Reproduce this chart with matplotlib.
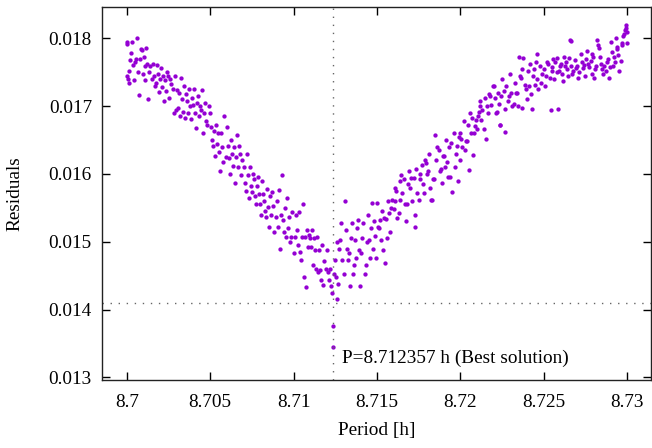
import matplotlib
matplotlib.use("Agg")
import matplotlib.pyplot as plt
from matplotlib.ticker import FixedLocator, FixedFormatter

# period scan: (offset from 8.7 h in 1e-5 h, residual in 1e-5)
scan = [
    (0, 1795), (1, 1792), (4, 1745), (8, 1740), (11, 1734), (15, 1752), (20, 1768), (26, 1779),
    (30, 1795), (36, 1761), (42, 1738), (50, 1766), (56, 1769), (60, 1800), (66, 1750), (72, 1716),
    (78, 1770), (84, 1785), (90, 1783), (96, 1748),
    (102, 1772), (108, 1760), (112, 1738), (118, 1786), (124, 1762), (130, 1710), (136, 1750), (142, 1760),
    (150, 1740), (156, 1763), (162, 1745), (168, 1730), (174, 1735), (180, 1761), (186, 1748), (194, 1721),
    (200, 1740), (206, 1756), (212, 1728), (218, 1744), (224, 1708), (230, 1738), (238, 1722), (244, 1750),
    (250, 1745), (256, 1712), (262, 1740), (268, 1733), (276, 1726), (282, 1690), (288, 1744), (294, 1695),
    (300, 1724), (306, 1698), (312, 1720), (318, 1685), (324, 1742), (330, 1710), (336, 1692), (342, 1730),
    (348, 1682), (354, 1718), (360, 1708), (366, 1690), (372, 1725), (378, 1700), (384, 1681), (392, 1712),
    (400, 1702), (406, 1726), (412, 1690), (418, 1668), (424, 1705), (430, 1715), (436, 1686), (442, 1700),
    (448, 1695), (454, 1724), (460, 1660), (466, 1690), (472, 1705), (478, 1678), (484, 1672), (492, 1700),
    (500, 1690), (506, 1670), (512, 1650), (518, 1641), (524, 1664), (530, 1627), (536, 1672), (542, 1645),
    (548, 1660), (554, 1632), (560, 1605), (566, 1660), (572, 1640), (578, 1618), (584, 1686), (592, 1625),
    (600, 1670), (606, 1641), (612, 1623), (618, 1600), (624, 1650), (630, 1630), (636, 1612), (642, 1640),
    (648, 1586), (654, 1625), (660, 1657), (666, 1610), (672, 1641), (678, 1630), (684, 1598), (692, 1620),
    (700, 1610), (706, 1586), (712, 1575), (718, 1630), (724, 1598), (730, 1564), (736, 1610), (742, 1583),
    (748, 1573), (754, 1600), (760, 1592), (766, 1568), (772, 1556), (778, 1583), (784, 1595), (792, 1570),
    (800, 1555), (806, 1540), (812, 1590), (818, 1570), (824, 1560), (830, 1545), (836, 1537), (842, 1578),
    (848, 1552), (854, 1522), (860, 1568), (866, 1540), (872, 1573), (878, 1553), (884, 1515), (892, 1536),
    (900, 1560), (906, 1522), (912, 1577), (918, 1490), (924, 1540), (930, 1598), (936, 1532), (942, 1515),
    (948, 1550), (954, 1507), (960, 1564), (966, 1520), (972, 1536), (978, 1500), (984, 1507), (992, 1544),
    (1000, 1483), (1006, 1507), (1012, 1540), (1018, 1517), (1024, 1495), (1030, 1544), (1036, 1485), (1042, 1473),
    (1048, 1507), (1054, 1555), (1060, 1448), (1066, 1507), (1072, 1433), (1078, 1517), (1084, 1493), (1092, 1510),
    (1100, 1505), (1106, 1493), (1112, 1517), (1118, 1465), (1124, 1505), (1130, 1488), (1136, 1460), (1142, 1507),
    (1148, 1455), (1154, 1488), (1160, 1458), (1166, 1443), (1172, 1495), (1178, 1436), (1184, 1472), (1192, 1460),
    (1200, 1488), (1206, 1455), (1212, 1443), (1218, 1460), (1222, 1434), (1228, 1424), (1234, 1375), (1236, 1344),
    (1240, 1452), (1246, 1473), (1252, 1448), (1258, 1415), (1262, 1500), (1268, 1438), (1274, 1490), (1280, 1503),
    (1286, 1527), (1292, 1473),
    (1300, 1452), (1306, 1560), (1312, 1517), (1318, 1490), (1324, 1473), (1330, 1483), (1336, 1434), (1342, 1505),
    (1348, 1527), (1354, 1452), (1360, 1465), (1366, 1503), (1372, 1476), (1378, 1520), (1384, 1532), (1392, 1488),
    (1400, 1434), (1404, 1483), (1410, 1505), (1418, 1527), (1426, 1452), (1432, 1465), (1440, 1500), (1446, 1540),
    (1452, 1503), (1460, 1476), (1466, 1520), (1472, 1557), (1478, 1490), (1484, 1530), (1490, 1508), (1496, 1476),
    (1500, 1557), (1506, 1522), (1512, 1520), (1518, 1532), (1524, 1503), (1530, 1545), (1536, 1488), (1542, 1535),
    (1548, 1468), (1554, 1534), (1560, 1505), (1566, 1560), (1572, 1542), (1578, 1515), (1584, 1550), (1592, 1562),
    (1600, 1548), (1606, 1580), (1610, 1560), (1616, 1575), (1622, 1535), (1630, 1542), (1636, 1590), (1640, 1562),
    (1646, 1598), (1652, 1572), (1660, 1592), (1666, 1555), (1672, 1530), (1680, 1555), (1686, 1585), (1694, 1604),
    (1700, 1580), (1706, 1594), (1712, 1560), (1720, 1594), (1726, 1540), (1730, 1522), (1736, 1608), (1742, 1572),
    (1750, 1562), (1756, 1600), (1760, 1592), (1768, 1614), (1774, 1585), (1780, 1572), (1786, 1620), (1794, 1616),
    (1800, 1600), (1806, 1604), (1812, 1630), (1818, 1580), (1824, 1562), (1830, 1562), (1836, 1592), (1842, 1592),
    (1850, 1658), (1856, 1620), (1862, 1640), (1870, 1636), (1876, 1605), (1882, 1608), (1890, 1587), (1896, 1626),
    (1900, 1626), (1906, 1610), (1912, 1650), (1920, 1618), (1926, 1596), (1932, 1640), (1940, 1596), (1946, 1646),
    (1952, 1573), (1960, 1661), (1966, 1611), (1972, 1630), (1980, 1641), (1986, 1589), (1994, 1655), (1998, 1620),
    (2000, 1661), (2006, 1652), (2012, 1640), (2020, 1678), (2026, 1635), (2034, 1648), (2040, 1648), (2046, 1672),
    (2050, 1606), (2056, 1690), (2062, 1661), (2070, 1683), (2076, 1628), (2082, 1660), (2090, 1671), (2096, 1680),
    (2100, 1666), (2106, 1686), (2110, 1691), (2116, 1700), (2120, 1708), (2126, 1680), (2132, 1695), (2140, 1666),
    (2146, 1712), (2152, 1652), (2160, 1700), (2166, 1690), (2172, 1718), (2180, 1715), (2186, 1702), (2194, 1730),
    (2200, 1730), (2206, 1712), (2212, 1690), (2220, 1691), (2226, 1720), (2230, 1703), (2236, 1673), (2240, 1673),
    (2246, 1715), (2252, 1740), (2260, 1723), (2266, 1696), (2270, 1662), (2276, 1730), (2284, 1708), (2290, 1715),
    (2300, 1747), (2306, 1720), (2312, 1700), (2320, 1703), (2326, 1735), (2334, 1720), (2340, 1720), (2346, 1700),
    (2350, 1772), (2356, 1745), (2360, 1742), (2366, 1755), (2370, 1698), (2376, 1771), (2384, 1732), (2390, 1725),
    (2400, 1710), (2406, 1752), (2410, 1730), (2416, 1762), (2422, 1718), (2430, 1696), (2436, 1745), (2440, 1755),
    (2446, 1732), (2450, 1765), (2456, 1740), (2460, 1777), (2466, 1725), (2474, 1760), (2482, 1735), (2490, 1747),
    (2500, 1755), (2506, 1730), (2512, 1745), (2520, 1765), (2526, 1762), (2534, 1742), (2540, 1694), (2546, 1758),
    (2550, 1752), (2556, 1770), (2560, 1740), (2568, 1765), (2576, 1750), (2580, 1771), (2586, 1696), (2592, 1752),
    (2596, 1759),
    (2600, 1762), (2606, 1748), (2612, 1737), (2618, 1772), (2624, 1759), (2630, 1765), (2636, 1755), (2642, 1745),
    (2650, 1771), (2656, 1798), (2660, 1796), (2664, 1760), (2670, 1747), (2676, 1752), (2684, 1768), (2692, 1757),
    (2700, 1760), (2706, 1742), (2712, 1750), (2720, 1777), (2726, 1765), (2732, 1756), (2740, 1761), (2746, 1745),
    (2752, 1770), (2760, 1781), (2766, 1763), (2772, 1758), (2780, 1767), (2786, 1748), (2790, 1777), (2796, 1772),
    (2800, 1742), (2806, 1755), (2812, 1760), (2820, 1798), (2826, 1790), (2830, 1786), (2836, 1772), (2842, 1762),
    (2850, 1755), (2856, 1748), (2862, 1760), (2870, 1752), (2876, 1765), (2882, 1770), (2890, 1742), (2896, 1758),
    (2900, 1795), (2906, 1780), (2912, 1760), (2920, 1773), (2926, 1765), (2930, 1800), (2936, 1784), (2940, 1788),
    (2946, 1775), (2952, 1752), (2960, 1767), (2966, 1790), (2970, 1793), (2976, 1803), (2980, 1807), (2986, 1812),
    (2990, 1820), (2994, 1816), (2998, 1810), (3000, 1793),
]

best_period = 8.712357
best_resid = 0.014097
note = "P=8.712357 h (Best solution)"

xticks = [8.7, 8.705, 8.71, 8.715, 8.72, 8.725, 8.73]
xtick_labels = ["8.7", "8.705", "8.71", "8.715", "8.72", "8.725", "8.73"]
yticks = [0.013, 0.014, 0.015, 0.016, 0.017, 0.018]
ytick_labels = ["0.013", "0.014", "0.015", "0.016", "0.017", "0.018"]

period = [8.7 + p * 1e-5 for p, r in scan]
resid = [r * 1e-5 for p, r in scan]

plt.rcParams['font.family'] = ['Liberation Serif', 'DejaVu Serif']
plt.rcParams['font.size'] = 13.9

fig = plt.figure(figsize=(6.52, 4.48), dpi=100)
ax = fig.add_axes([0.156, 0.1518, 0.8432, 0.8322])

ax.plot(period, resid, linestyle='none', marker='o', markersize=3.1,
        color='#9400d3', markeredgewidth=0)

ax.axvline(best_period, color='#666666', linewidth=1.0, dashes=(1, 4.8))
ax.axhline(best_resid, color='#666666', linewidth=1.0, dashes=(1, 4.8))
ax.text(8.71289, 0.013211, note, ha='left', va='baseline')

ax.set_xlim(8.6985, 8.73145)
ax.set_ylim(0.01296, 0.018462)

ax.xaxis.set_major_locator(FixedLocator(xticks))
ax.xaxis.set_major_formatter(FixedFormatter(xtick_labels))
ax.yaxis.set_major_locator(FixedLocator(yticks))
ax.yaxis.set_major_formatter(FixedFormatter(ytick_labels))
ax.tick_params(direction='in', length=5.5, width=1, top=True, right=True)
ax.tick_params(axis='x', pad=10)
ax.tick_params(axis='y', pad=7)
for s in ax.spines.values():
    s.set_linewidth(1.0)
    s.set_color('#222222')

ax.set_xlabel("Period [h]")
ax.set_ylabel("Residuals")
ax.xaxis.set_label_coords(0.5, -0.113)
ax.yaxis.set_label_coords(-0.143, 0.5)

fig.savefig("out.png", dpi=100)
